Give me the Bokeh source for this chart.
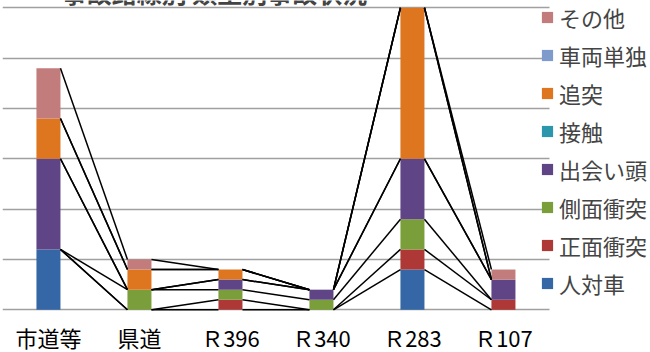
from bokeh.plotting import figure
from bokeh.models import Range1d, FixedTicker, Legend, LegendItem, Label, ColumnDataSource
from bokeh.core.properties import value
from bokeh.embed import file_html
from bokeh.resources import INLINE

title_text = "事故路線別 類型別事故状況"
categories = ["市道等", "県道", "Ｒ396", "Ｒ340", "Ｒ283", "Ｒ107"]
series = ["人対車", "正面衝突", "側面衝突", "出会い頭", "接触", "追突", "車両単独", "その他"]
jintaisha = [6, 0, 0, 0, 4, 0]
shomen = [0, 0, 1, 0, 2, 1]
sokumen = [0, 2, 1, 1, 3, 0]
deaigashira = [9, 0, 1, 1, 6, 2]
sesshoku = [0, 0, 0, 0, 0, 0]
tsuitotsu = [4, 2, 1, 0, 15, 0]
tandoku = [0, 0, 0, 0, 0, 0]
sonota = [5, 1, 0, 0, 0, 1]
y_ticks = [0, 5, 10, 15, 20, 25, 30]

colors = ["#3567A6", "#AE3836", "#7A9E3A", "#5F4585", "#2C96AD", "#DE7620", "#7E9BCB", "#C27C7B"]
values = [jintaisha, shomen, sokumen, deaigashira, sesshoku, tsuitotsu, tandoku, sonota]

xs = list(range(len(categories)))
data = {"x": xs}
for name, vals in zip(series, values):
    data[name] = vals
source = ColumnDataSource(data)

BAR_W = 0.264
FONT = "Noto Sans CJK JP"
X_LO, X_HI = -0.505, 5.505
LABEL_Y = -2.68  # vertical place of the category labels, below the baseline

p = figure(width=650, height=352, output_backend="svg", toolbar_location=None,
           x_range=Range1d(X_LO, 6.616), y_range=Range1d(-4.24, 30.72),
           x_axis_location=None, y_axis_location=None,
           min_border_left=2, min_border_top=0, min_border_right=0, min_border_bottom=0)
p.outline_line_color = None
p.background_fill_color = "white"

renderers = p.vbar_stack(series, x="x", width=BAR_W, color=colors, line_color=None, source=source)

# series lines connecting the top of each series between adjacent bars
cum = []
running = [0] * len(categories)
for vals in values:
    running = [a + b for a, b in zip(running, vals)]
    cum.append(list(running))
x0, y0, x1, y1 = [], [], [], []
for c in cum:
    for j in range(len(categories) - 1):
        x0.append(xs[j] + BAR_W / 2)
        y0.append(c[j])
        x1.append(xs[j + 1] - BAR_W / 2)
        y1.append(c[j + 1])
p.segment(x0=x0, y0=y0, x1=x1, y1=y1, line_color="black", line_width=1.5)

p.xgrid.grid_line_color = None
p.ygrid.ticker = FixedTicker(ticks=y_ticks)
p.ygrid.grid_line_color = "#A0A0A0"
p.ygrid.grid_line_width = 1.5
p.ygrid.cross_bounds = (X_LO, X_HI)

# category labels under the bars
p.text(x=xs, y=[LABEL_Y] * len(xs), text=categories, text_font=value(FONT),
       text_font_size="22px", text_color="black", text_align="center", text_baseline="middle")

items = [LegendItem(label=name, renderers=[r]) for name, r in zip(series, renderers)][::-1]
legend = Legend(items=items, location=(538, 53), orientation="vertical",
                label_text_font=FONT, label_text_font_size="22px",
                glyph_width=14, glyph_height=14, label_standoff=5,
                label_height=32, spacing=6, padding=0, margin=0,
                border_line_color=None, background_fill_alpha=0)
p.add_layout(legend, "center")

p.add_layout(Label(x=212, y=360.5, x_units="screen", y_units="screen", text=title_text,
                   text_font=FONT, text_font_style="bold", text_font_size="25px",
                   text_align="center", text_baseline="alphabetic"))

open("out.html", "w").write(file_html(p, INLINE))
